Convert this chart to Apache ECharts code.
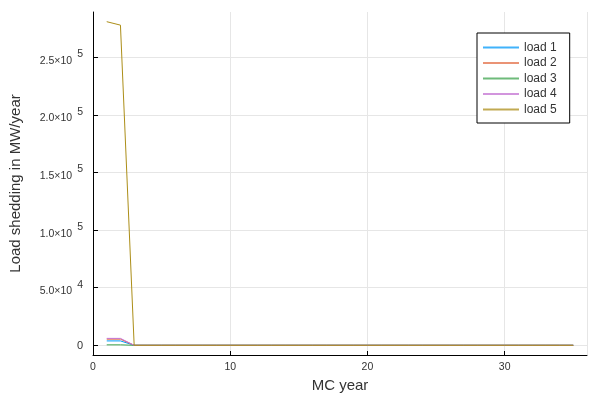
<!DOCTYPE html>
<html>
<head>
<meta charset="UTF-8" />
<title>Load shedding</title>
<script src="https://cdn.jsdelivr.net/npm/echarts@6/dist/echarts.min.js"></script>
</head>
<body style="margin:0">
<div id="main" style="width:600px;height:400px;"></div>
<script>
// MC years 1..35
var years = [1,2,3,4,5,6,7,8,9,10,11,12,13,14,15,16,17,18,19,20,21,22,23,24,25,26,27,28,29,30,31,32,33,34,35];
var load1 = [3800,3800,0,0,0,0,0,0,0,0,0,0,0,0,0,0,0,0,0,0,0,0,0,0,0,0,0,0,0,0,0,0,0,0,0];
var load2 = [5300,5300,0,0,0,0,0,0,0,0,0,0,0,0,0,0,0,0,0,0,0,0,0,0,0,0,0,0,0,0,0,0,0,0,0];
var load3 = [400,400,0,0,0,0,0,0,0,0,0,0,0,0,0,0,0,0,0,0,0,0,0,0,0,0,0,0,0,0,0,0,0,0,0];
var load4 = [6000,6000,0,0,0,0,0,0,0,0,0,0,0,0,0,0,0,0,0,0,0,0,0,0,0,0,0,0,0,0,0,0,0,0,0];
var load5 = [281000,278000,0,0,0,0,0,0,0,0,0,0,0,0,0,0,0,0,0,0,0,0,0,0,0,0,0,0,0,0,0,0,0,0,0];
var names = ['load 1','load 2','load 3','load 4','load 5'];
var colors = ['#009AFA','#E36F47','#3EA44E','#C371D2','#AC8E18'];
var yTicks = [0,50000,100000,150000,200000,250000];
var yTickText = {0:'0', 50000:['5.0','4'], 100000:['1.0','5'], 150000:['1.5','5'], 200000:['2.0','5'], 250000:['2.5','5']};

var font = 'Liberation Sans, Arial, sans-serif';
var all = [load1, load2, load3, load4, load5];

var series = all.map(function (vals, i) {
    return {
        name: names[i],
        type: 'line',
        data: years.map(function (x, j) { return [x, vals[j]]; }),
        showSymbol: false,
        symbol: 'none',
        lineStyle: {width: 1, color: colors[i]},
        itemStyle: {color: colors[i]},
        animation: false
    };
});

var chart = echarts.init(document.getElementById('main'));
chart.setOption({
    animation: false,
    backgroundColor: '#fff',
    textStyle: {fontFamily: font},
    grid: {left: 91, right: 13, top: 12, bottom: 45},
    legend: {
        orient: 'vertical',
        left: 477, top: 33,
        padding: [7, 13, 6, 6],
        itemGap: 0.5,
        itemWidth: 36, itemHeight: 2,
        icon: 'rect',
        borderColor: '#000', borderWidth: 1,
        borderRadius: 0,
        backgroundColor: '#fff',
        textStyle: {fontSize: 12, color: '#333', fontFamily: font, lineHeight: 15},
        data: names.map(function (n, i) {
            return {name: n, itemStyle: {color: colors[i], opacity: 0.75}};
        })
    },
    xAxis: {
        type: 'value',
        min: 0, max: 36, interval: 10,
        name: 'MC year',
        nameLocation: 'middle',
        nameGap: 22,
        nameTextStyle: {fontSize: 15, color: '#333', fontFamily: font},
        axisLine: {onZero: false, lineStyle: {color: '#000', width: 1}},
        axisTick: {inside: true, length: 4, lineStyle: {color: '#000'}},
        axisLabel: {fontSize: 10.5, color: '#333', margin: 7, showMaxLabel: false},
        splitLine: {show: true, lineStyle: {color: '#e6e6e6', width: 1}}
    },
    yAxis: {
        type: 'value',
        min: -8430, max: 289400,
        name: 'Load shedding in MW/year',
        nameLocation: 'middle',
        nameGap: 70,
        nameTextStyle: {fontSize: 15, color: '#333', fontFamily: font},
        axisLine: {onZero: false, lineStyle: {color: '#000', width: 1}},
        axisTick: {inside: true, length: 5, customValues: yTicks, lineStyle: {color: '#000'}},
        axisLabel: {
            customValues: yTicks,
            margin: 10,
            fontSize: 10.5,
            color: '#333',
            formatter: function (v) {
                var t = yTickText[v];
                if (typeof t === 'string') return '{z|' + t + '}';
                return '{m|' + t[0] + '×10}{e|' + t[1] + '}';
            },
            rich: {
                z: {fontSize: 11, color: '#333', padding: [2, 0, 0, 0]},
                m: {fontSize: 10.5, color: '#333', padding: [7, 0, 0, 0]},
                e: {fontSize: 10.5, color: '#333', padding: [0, 0, 6, 5]}
            }
        },
        splitLine: {show: true, lineStyle: {color: '#e6e6e6', width: 1}}
    },
    series: series
});
</script>
</body>
</html>
